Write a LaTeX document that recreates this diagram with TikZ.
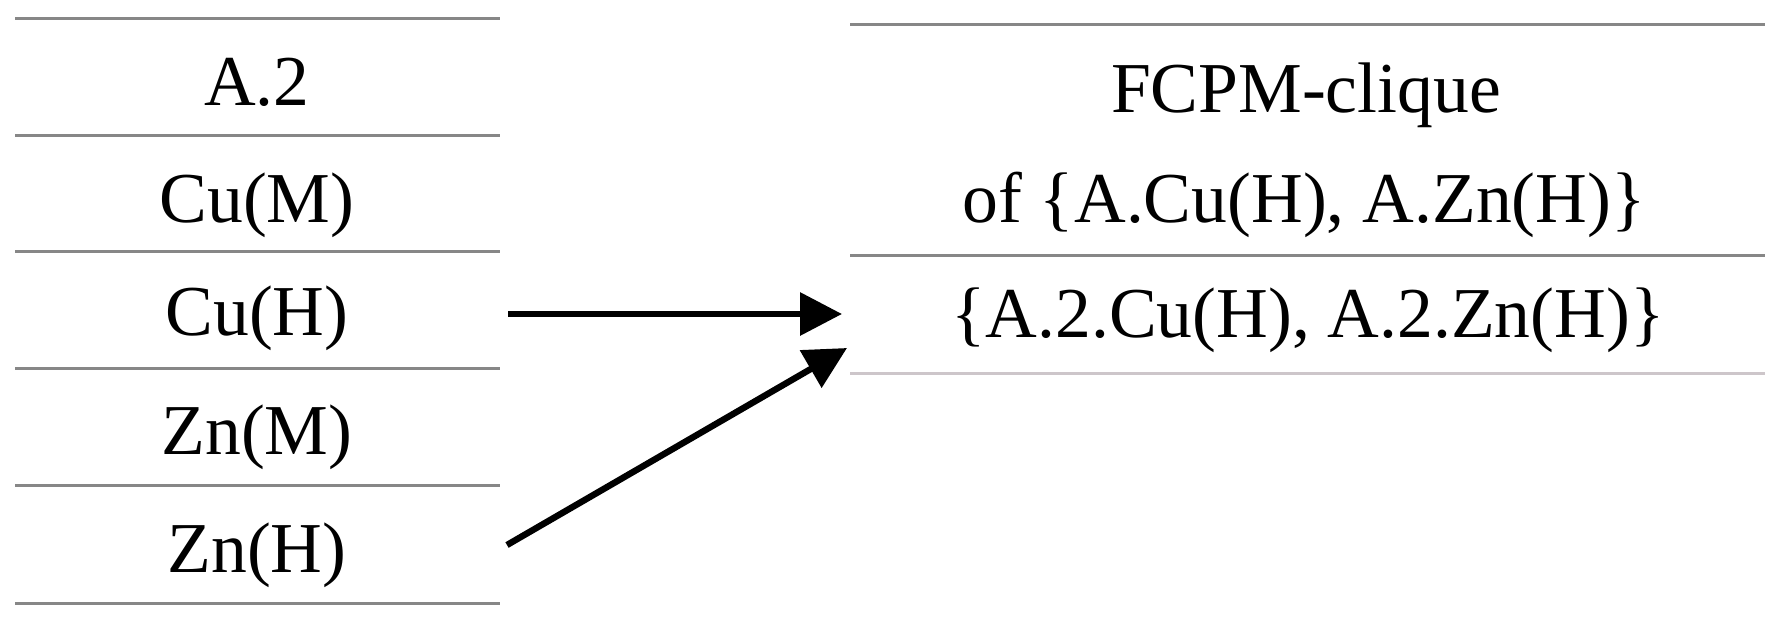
\documentclass[tikz,border=0pt]{standalone}
\usepackage{fontspec}
\setmainfont{Liberation Serif}
\usetikzlibrary{arrows.meta}
\definecolor{rulegray}{RGB}{135,135,135}
\definecolor{rulelight}{RGB}{205,198,202}
\begin{document}
\begin{tikzpicture}[x=0.5pt,y=-0.5pt,
  rule/.style={line width=1.5pt,draw=rulegray},
  lbl/.style={anchor=base,inner sep=0pt,font=\fontsize{35.8pt}{40pt}\selectfont},
  arr/.style={line width=3.2pt,-{Triangle[length=21pt,width=21pt]}}]
\useasboundingbox (0,0) rectangle (1783,622);
% left table rules
\foreach \y in {18,135,251,368,485,603}
  \draw[rule] (15,\y) -- (500,\y);
% right table rules
\draw[rule] (850,24) -- (1765,24);
\draw[rule] (850,255) -- (1765,255);
\draw[rule,draw=rulelight] (850,373) -- (1765,373);
% left labels
\node[lbl] (a2)  at (257,105) {A.2};
\node[lbl] (cum) at (257,222) {Cu(M)};
\node[lbl] (cuh) at (257,335) {Cu(H)};
\node[lbl] (znm) at (257,454) {Zn(M)};
\node[lbl] (znh) at (257,572) {Zn(H)};
% right labels
\node[lbl] (r1) at (1306,112) {FCPM-clique};
\node[lbl] (r2) at (1304,222) {of \{A.Cu(H), A.Zn(H)\}};
\node[lbl] (r3) at (1308,337) {\{A.2.Cu(H), A.2.Zn(H)\}};
% connector end points
\coordinate (s1) at (508,314);
\coordinate (e1) at (842,314);
\coordinate (s2) at (507,545);
\coordinate (e2) at (847,348);
\draw[arr] (s1) -- (e1);
\draw[arr] (s2) -- (e2);
\end{tikzpicture}
\end{document}
